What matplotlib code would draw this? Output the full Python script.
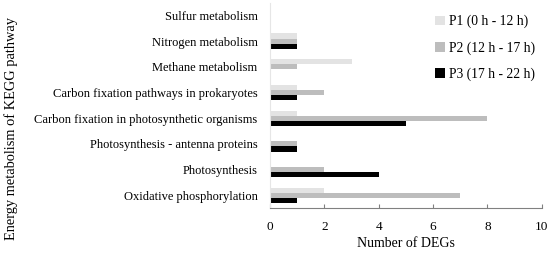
import matplotlib.pyplot as plt
import numpy as np

plt.rcParams['font.family'] = ['Liberation Serif', 'DejaVu Serif']

# categories bottom to top
pathways = ["Oxidative phosphorylation", "Photosynthesis",
            "Photosynthesis - antenna proteins",
            "Carbon fixation in photosynthetic organisms",
            "Carbon fixation pathways in prokaryotes",
            "Methane metabolism", "Nitrogen metabolism", "Sulfur metabolism"]
p1 = [2, 0, 0, 1, 1, 3, 1, 0]
p2 = [7, 2, 1, 8, 2, 1, 1, 0]
p3 = [1, 4, 1, 5, 1, 0, 1, 0]
series_names = ["P1 (0 h - 12 h)", "P2 (12 h - 17 h)", "P3 (17 h - 22 h)"]
series_colors = ["#e3e3e3", "#bdbdbd", "#000000"]

fig = plt.figure(figsize=(5.5, 2.57), dpi=100)
ax = fig.add_axes([0.491, 0.19, 0.494, 0.80])

y = np.arange(len(pathways))
h = 0.2
for i, (vals, name, col) in enumerate(zip([p1, p2, p3], series_names, series_colors)):
    ax.barh(y + h - i * h, vals, height=h, color=col, label=name)

ax.set_xlim(0, 10)
ax.set_ylim(-0.5, len(pathways) - 0.5)
ax.set_xticks([0, 2, 4, 6, 8, 10])
ax.set_yticks(y)
ax.set_yticklabels(pathways, fontsize=9.0)
ax.tick_params(axis='y', length=0, pad=9)
ax.tick_params(axis='x', direction='in', length=3, color='#808080', labelsize=9.5, pad=9)
for s in ['top', 'right']:
    ax.spines[s].set_visible(False)
ax.spines['left'].set_color('#e6e6e6')
ax.spines['bottom'].set_color('#808080')

ax.set_xlabel("Number of DEGs", fontsize=10, labelpad=3)
fig.text(0.02, 0.5, "Energy metabolism of KEGG pathway", rotation=90,
         ha='center', va='center', fontsize=10.4)

leg = ax.legend(loc='upper right', bbox_to_anchor=(1.02, 1.0), frameon=False,
                fontsize=9.8, handlelength=0.7, handleheight=0.7,
                handletextpad=0.3, labelspacing=0.95)

fig.savefig("out.png", dpi=100)
